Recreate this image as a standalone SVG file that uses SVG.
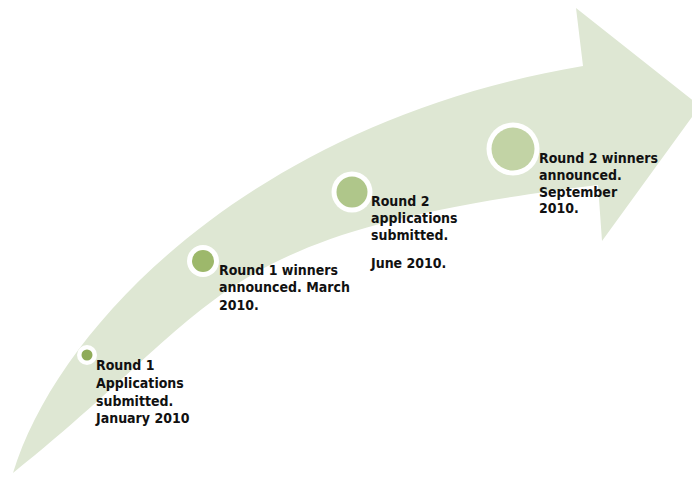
<svg xmlns="http://www.w3.org/2000/svg" width="692" height="478" viewBox="0 0 692 478">
  <style>
    .arrow { fill: #dee7d3; }
    .ring { fill: #ffffff; }
    .label { font-family: "DejaVu Sans Condensed", "DejaVu Sans", sans-serif; font-stretch: condensed; font-weight: bold; font-size: 14px; fill: #111111; }
  </style>
  <rect width="692" height="478" fill="#ffffff"/>

  <!-- curved timeline arrow -->
  <g id="connectors">
    <path class="arrow" d="M13,473 C60,320 260,120 583,66 L576,8 L700,106 L602,241 L598,185 C206,233 229,301 13,473 Z"/>
  </g>

  <g id="m1">
    <circle class="ring" cx="87" cy="355" r="10"/>
    <circle cx="87" cy="355" r="5.5" fill="#8fab58"/>
    <text class="label" x="96" y="370">Round 1</text>
    <text class="label" x="96" y="388">Applications</text>
    <text class="label" x="96" y="406">submitted.</text>
    <text class="label" x="96" y="423">January 2010</text>
  </g>

  <g id="m2">
    <circle class="ring" cx="203" cy="261" r="16"/>
    <circle cx="203" cy="261" r="11" fill="#9db86b"/>
    <text class="label" x="219" y="275">Round 1 winners</text>
    <text class="label" x="219" y="292">announced. March</text>
    <text class="label" x="219" y="310">2010.</text>
  </g>

  <g id="m3">
    <circle class="ring" cx="352" cy="192" r="20.5"/>
    <circle cx="352" cy="192" r="15.5" fill="#afc68a"/>
    <text class="label" x="371" y="206">Round 2</text>
    <text class="label" x="371" y="223">applications</text>
    <text class="label" x="371" y="240">submitted.</text>
    <text class="label" x="371" y="268">June 2010.</text>
  </g>

  <g id="m4">
    <circle class="ring" cx="513" cy="149" r="26.5"/>
    <circle cx="513" cy="149" r="21.5" fill="#c2d3a5"/>
    <text class="label" x="539" y="163">Round 2 winners</text>
    <text class="label" x="539" y="180">announced.</text>
    <text class="label" x="539" y="197">September</text>
    <text class="label" x="539" y="213">2010.</text>
  </g>
</svg>
